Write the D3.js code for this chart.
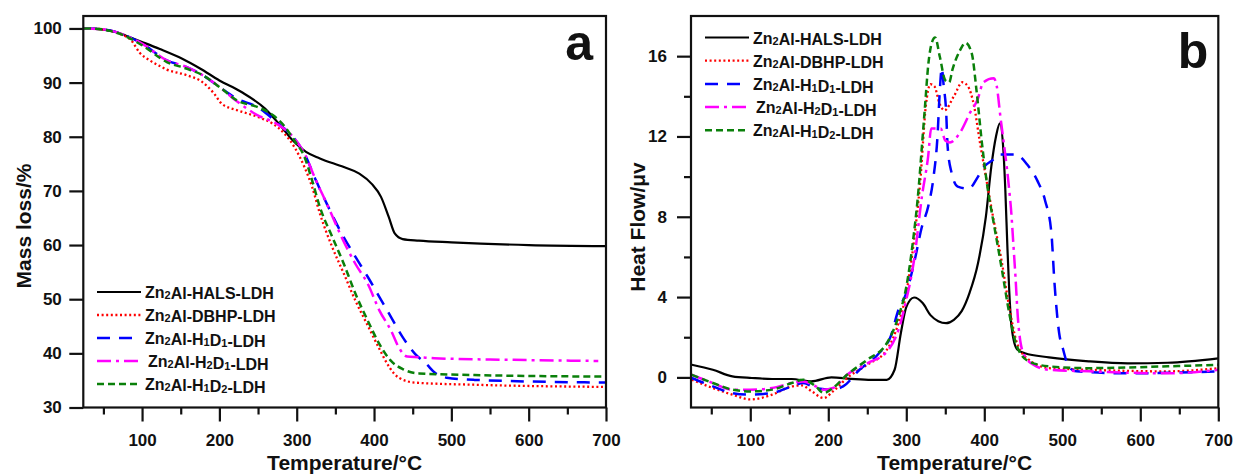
<!DOCTYPE html>
<html>
<head>
<meta charset="utf-8">
<script src="https://cdn.jsdelivr.net/npm/d3@7"></script>
<style>
  html, body { margin: 0; padding: 0; background: #fff; }
  svg { display: block; }
  text { font-family: "Liberation Sans", Arial, sans-serif; font-weight: bold; fill: #111; }
</style>
</head>
<body>
<svg id="chart" width="1234" height="475"></svg>
<script>
// ---------------- DATA ----------------
const seriesNames = ["Zn2Al-HALS-LDH", "Zn2Al-DBHP-LDH", "Zn2Al-H1D1-LDH", "Zn2Al-H2D1-LDH", "Zn2Al-H1D2-LDH"];

const xTicksMajor = [100, 200, 300, 400, 500, 600, 700];
const xTicksMinor = [50, 150, 250, 350, 450, 550, 650];
const yTicksMass = [30, 40, 50, 60, 70, 80, 90, 100];
const yTicksHeatMajor = [0, 4, 8, 12, 16];
const yTicksHeatMinor = [2, 6, 10, 14];

// (a) TGA: [temperature °C, mass %]
const tgaHALS = [[25,100],[40,99.9],[55,99.7],[65,99.4],[80,98.6],[100,97.5],[123,96.2],[152,94.4],[175,92.6],[200,90.4],[228,88.3],[259,85.2],[277,82.4],[295,79.3],[312,77.2],[330,76],[361,74.4],[381,73.2],[397,71.3],[409,68.9],[419,65.2],[427,62.1],[437,61.1],[458,60.8],[500,60.5],[600,60.0],[700,59.8]];
const tgaDBHP = [[25,100],[45,99.9],[60,99.5],[75,98.8],[86,97.8],[97,95.5],[110,94.1],[121,93.2],[132,92.4],[157,91.4],[178,90.1],[193,88],[203,86.1],[223,84.9],[249,83.7],[269,82.4],[284,80.6],[297,78.1],[310,74.4],[320,70.7],[330,65.8],[346,59.6],[361,54.7],[376,49.7],[392,45.1],[407,40.8],[420,37.4],[432,35.5],[453,34.6],[530,34.2],[700,33.8]];
const tgaH1D1 = [[25,100],[45,99.9],[60,99.6],[75,98.9],[100,97.2],[132,94.1],[157,92.9],[178,91.4],[200,89.2],[223,87],[249,85.5],[274,82.7],[295,80],[310,76.9],[325,71.9],[341,67],[356,62.7],[376,57.8],[392,54.1],[407,50.4],[422,46.7],[437,43],[453,39.9],[468,38],[478,36.5],[494,35.5],[530,35.1],[700,34.6]];
const tgaH2D1 = [[25,100],[45,99.9],[60,99.6],[75,98.9],[100,97.2],[132,94.1],[157,92.9],[178,91.4],[200,89.2],[223,86.5],[249,84],[274,82.4],[295,80],[310,76.9],[325,71.9],[341,67],[356,62.1],[376,56.5],[392,52.8],[407,47.9],[422,44.2],[432,41.1],[443,39.4],[458,39.3],[478,39.1],[580,38.8],[690,38.6]];
const tgaH1D2 = [[25,100],[45,99.9],[60,99.5],[75,98.8],[100,96.9],[132,93.8],[157,92.6],[178,91.4],[200,89.2],[223,86.7],[249,85.5],[269,84],[285,81.8],[297,79.3],[310,76.3],[320,71.9],[330,67],[346,61.5],[361,56.5],[376,51],[392,46],[407,41.7],[422,38.6],[437,37.1],[458,36.3],[530,36],[700,35.7]];

// (b) DTA: [temperature °C, heat flow µV]
const dtaHALS = [[25,0.63],[52,0.38],[77,0.05],[102,-0.03],[128,-0.08],[153,-0.08],[178,-0.2],[204,0],[229,-0.07],[255,-0.12],[275,-0.12],[285,0.38],[293,2.2],[300,3.5],[310,3.98],[321,3.7],[331,3.1],[341,2.8],[351,2.7],[361,2.87],[371,3.3],[381,4.2],[392,5.7],[402,8.0],[409,10.5],[415,12],[420,12.65],[424.5,11.3],[427,9.3],[429.7,6.4],[432,4.3],[435,2.5],[442,1.4],[452,1.2],[483,1.0],[534,0.8],[584,0.7],[635,0.73],[700,0.95]];
const dtaDBHP = [[25,-0.12],[52,-0.53],[77,-0.86],[100,-1.1],[128,-0.86],[153,-0.45],[166,-0.4],[179,-0.7],[194,-1.03],[206,-0.7],[224,-0.03],[250,0.63],[275,1.37],[290,2.7],[300,4.2],[310,6.85],[318,9.8],[325,13.5],[331,14.6],[336,14.5],[343,13.6],[349,13.3],[361,14],[372,14.7],[379,14.5],[387,13.5],[394,11.8],[402,10],[412,7.84],[422,5.85],[432,3.5],[442,1.7],[457,0.88],[483,0.46],[534,0.38],[635,0.3],[700,0.46]];
const dtaH1D1 = [[25,-0.03],[52,-0.45],[77,-0.78],[100,-0.86],[128,-0.78],[153,-0.45],[168,-0.28],[184,-0.53],[204,-0.61],[219,-0.45],[240,0.38],[265,1.2],[280,2.04],[290,3.37],[300,4.2],[310,5.7],[320,7.5],[328,8.5],[335,10],[340,12],[343,14.3],[345.5,15.4],[348,14.5],[351,13.3],[353,11.5],[358,10.2],[366,9.5],[380,9.4],[392,10],[400,10.5],[410,10.8],[420,11.1],[440,11.1],[455,10.6],[468,9.8],[478,8.8],[486,7.2],[490,4.7],[496,2.2],[501,1.4],[508,0.55],[518,0.3],[584,0.2],[700,0.3]];
const dtaH2D1 = [[25,0.13],[52,-0.28],[77,-0.61],[100,-0.61],[128,-0.53],[153,-0.28],[168,-0.2],[184,-0.45],[194,-0.61],[206,-0.53],[224,0.13],[250,0.7],[275,1.28],[290,2.37],[300,3.86],[310,5.85],[320,9.0],[328,11.0],[332,12.4],[344,12.4],[350,11.8],[356,11.7],[369,12.2],[382,13.2],[391,13.8],[399,14.7],[412,14.9],[416,14.5],[420.6,13],[424.6,11.8],[431,9.7],[435,8],[437,6.8],[440,5.0],[443,3.0],[450,1.2],[463,0.63],[483,0.38],[534,0.3],[635,0.2],[700,0.38]];
const dtaH1D2 = [[25,0.13],[52,-0.28],[77,-0.61],[100,-0.7],[128,-0.61],[153,-0.28],[168,-0.12],[184,-0.45],[194,-0.78],[206,-0.53],[224,0.13],[250,0.88],[275,1.7],[290,3.03],[300,4.5],[308,6.6],[316,9.5],[320,11.5],[324,13.5],[328,15.5],[333,16.7],[337,16.93],[343,15.97],[350,14.8],[355,14.7],[359,15.3],[369,16.3],[376,16.66],[384,16.13],[390,14.3],[397,11.66],[404,9.5],[412,7.7],[422,5.5],[432,3.2],[442,1.54],[457,0.8],[483,0.55],[534,0.46],[635,0.55],[700,0.63]];

// ---------------- STYLE ----------------
const styles = [
  { color: "#000000", dash: null, width: 2.2 },
  { color: "#ff0000", dash: "2 2.6", width: 2.3 },
  { color: "#0000ff", dash: "13 9", width: 2.5 },
  { color: "#ff00ff", dash: "14 5 3 5", width: 2.5 },
  { color: "#0a800a", dash: "7 4", width: 2.5 }
];

const svg = d3.select("#chart");

function drawPanel(cfg) {
  const x = d3.scaleLinear().domain([24, 700]).range([cfg.left, cfg.right]);
  const y = d3.scaleLinear().domain(cfg.yDomain).range([cfg.bottom, cfg.top]);
  const g = svg.append("g");

  // Curves
  const line = d3.line().x(d => x(d[0])).y(d => y(d[1])).curve(d3.curveMonotoneX);
  cfg.series.forEach((s, i) => {
    g.append("path")
      .attr("d", line(s))
      .attr("fill", "none")
      .attr("stroke", styles[i].color)
      .attr("stroke-width", styles[i].width)
      .attr("stroke-dasharray", styles[i].dash)
      .attr("stroke-linejoin", "round");
  });

  // Frame
  g.append("rect")
    .attr("x", cfg.left).attr("y", cfg.top)
    .attr("width", cfg.right - cfg.left).attr("height", cfg.bottom - cfg.top)
    .attr("fill", "none").attr("stroke", "#111").attr("stroke-width", 2.2);

  // X axis (major + minor)
  const xAxis = g.append("g").attr("transform", `translate(0,${cfg.bottom})`)
    .call(d3.axisBottom(x).tickValues(xTicksMajor).tickSize(14).tickPadding(12.4).tickFormat(d3.format("d")));
  const xMinor = g.append("g").attr("transform", `translate(0,${cfg.bottom})`)
    .call(d3.axisBottom(x).tickValues(xTicksMinor).tickSize(7).tickFormat(""));

  // Y axis
  const yAxis = g.append("g").attr("transform", `translate(${cfg.left},0)`)
    .call(d3.axisLeft(y).tickValues(cfg.yMajor).tickSize(14).tickPadding(cfg.yPad).tickFormat(d3.format("d")));
  let yMinor = null;
  if (cfg.yMinor) {
    yMinor = g.append("g").attr("transform", `translate(${cfg.left},0)`)
      .call(d3.axisLeft(y).tickValues(cfg.yMinor).tickSize(7).tickFormat(""));
  }
  [xAxis, xMinor, yAxis, yMinor].forEach(a => {
    if (!a) return;
    a.select(".domain").remove();
    a.selectAll("line").attr("stroke", "#111").attr("stroke-width", 2.2);
    a.selectAll("text").attr("font-size", 17).attr("font-family", null).attr("fill", "#111");
  });

  // Axis titles
  g.append("text")
    .attr("x", (cfg.left + cfg.right) / 2).attr("y", 470)
    .attr("text-anchor", "middle").attr("font-size", 21)
    .text("Temperature/°C");
  g.append("text")
    .attr("transform", `translate(${cfg.ytitleX},${cfg.ytitleY}) rotate(-90)`)
    .attr("text-anchor", "middle").attr("font-size", 21)
    .text(cfg.yTitle);

  // Panel letter
  g.append("text")
    .attr("x", cfg.right - cfg.letterInset).attr("y", cfg.letterY)
    .attr("text-anchor", "end").attr("font-size", 50)
    .text(cfg.letter);

  // Legend
  const lg = g.append("g");
  seriesNames.forEach((name, i) => {
    const yy = cfg.legY + i * cfg.legStep;
    lg.append("line")
      .attr("x1", cfg.legX).attr("x2", cfg.legX + 44)
      .attr("y1", yy).attr("y2", yy)
      .attr("stroke", styles[i].color)
      .attr("stroke-width", styles[i].width)
      .attr("stroke-dasharray", styles[i].dash);
    const t = lg.append("text")
      .attr("x", cfg.legX + 48 + (i === 3 ? 3 : 0)).attr("y", yy + 6)
      .attr("font-size", 16);
    name.split(/(\d)/).filter(p => p.length).forEach(p => {
      if (/^\d$/.test(p)) {
        t.append("tspan").attr("font-size", 11).attr("dy", 1).text(p);
        t.append("tspan").attr("dy", -1).text("");
      } else {
        t.append("tspan").text(p);
      }
    });
  });
}

drawPanel({
  left: 83.3, right: 606, top: 16, bottom: 407.5,
  yDomain: [30, 102.3], yMajor: yTicksMass, yMinor: null, yPad: 7.5,
  series: [tgaHALS, tgaDBHP, tgaH1D1, tgaH2D1, tgaH1D2],
  yTitle: "Mass loss/%", ytitleX: 31, ytitleY: 226,
  letter: "a", letterInset: 13, letterY: 60,
  legX: 97, legY: 292, legStep: 23
});

drawPanel({
  left: 691, right: 1218.3, top: 16, bottom: 407.5,
  yDomain: [-1.5, 18], yMajor: yTicksHeatMajor, yMinor: yTicksHeatMinor, yPad: 10,
  series: [dtaHALS, dtaDBHP, dtaH1D1, dtaH2D1, dtaH1D2],
  yTitle: "Heat Flow/μv", ytitleX: 645, ytitleY: 227,
  letter: "b", letterInset: 10, letterY: 68,
  legX: 705, legY: 37.5, legStep: 23.2
});
</script>
</body>
</html>
